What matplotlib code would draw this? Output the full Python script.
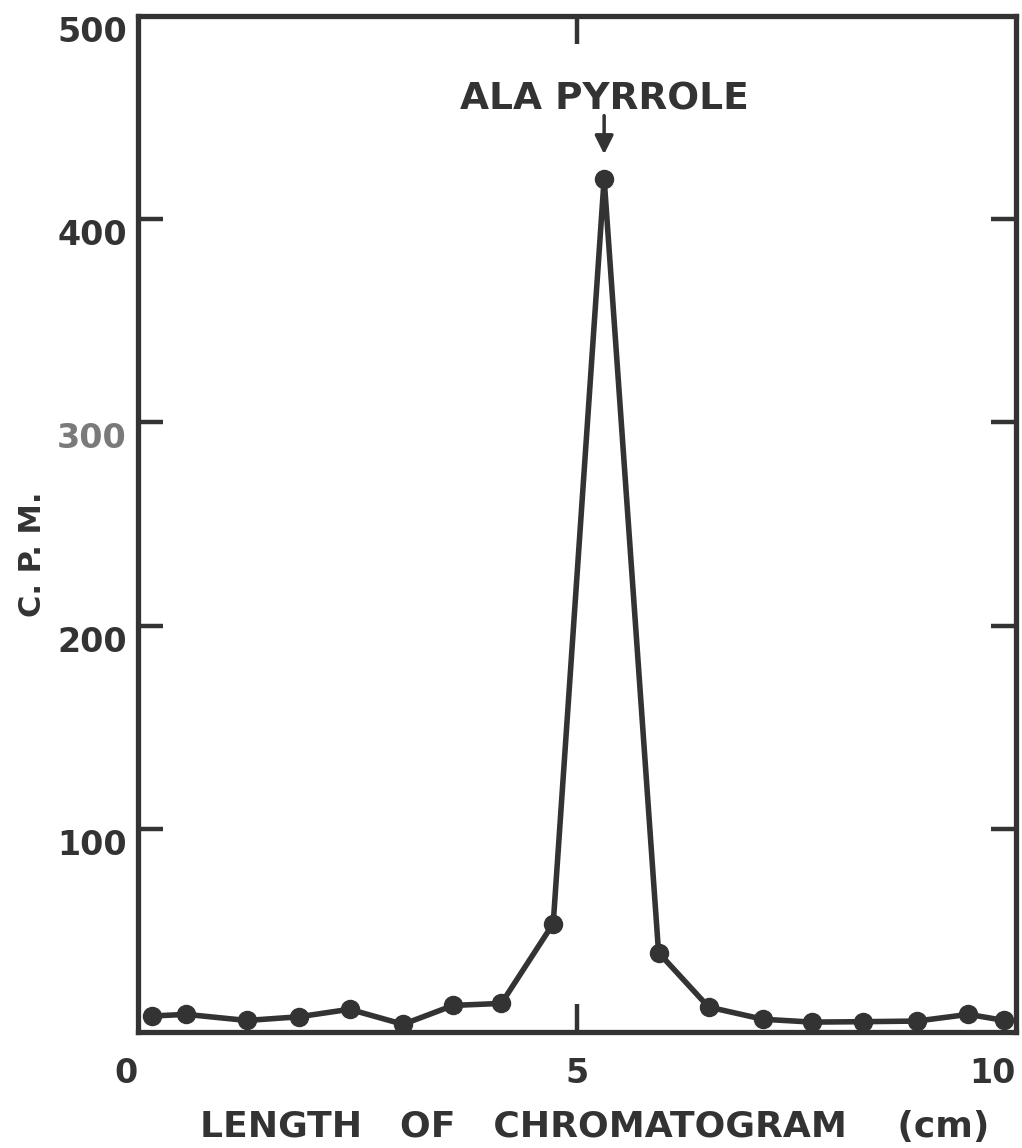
import numpy as np
import matplotlib
matplotlib.use('Agg')
import matplotlib.pyplot as plt

# Radioactivity along the chromatogram strip
length_cm = [0.16, 0.55, 1.24, 1.83, 2.41, 3.02, 3.59, 4.14, 4.73, 5.31,
             5.93, 6.50, 7.12, 7.68, 8.26, 8.87, 9.46, 9.87]
cpm = [7.9, 8.7, 5.7, 7.5, 11.2, 3.8, 13.1, 14.1, 53.4, 420.0,
       39.1, 12.3, 6.3, 4.9, 5.1, 5.4, 8.7, 5.7]

peak_label = 'ALA PYRROLE'
x_ticks = [0, 5, 10]
y_ticks = [100, 200, 300, 400, 500]

ink = '#333333'
plt.rcParams['font.family'] = 'DejaVu Sans'
plt.rcParams['font.weight'] = 'bold'

fig = plt.figure(figsize=(10.22, 11.48), dpi=100)
ax = fig.add_axes([0.135, 0.101, 0.859, 0.885])

ax.plot(length_cm, cpm, color=ink, lw=4.0, marker='o', ms=13,
        mfc=ink, mec=ink, clip_on=False, zorder=3)

ax.set_xlim(0, 10)
ax.set_ylim(0, 500)

for s in ax.spines.values():
    s.set_linewidth(3.8)
    s.set_color(ink)

# y ticks point inward on both sides
ax.set_yticks(y_ticks)
ax.set_yticklabels([str(v) for v in y_ticks])
ax.tick_params(axis='y', direction='in', length=18, width=3.2, color=ink,
               left=True, right=True, labelleft=True, labelright=False,
               labelsize=24, labelcolor=ink, pad=8)
for t in ax.yaxis.get_major_ticks():
    if t.get_loc() == 500:
        t.tick1line.set_visible(False)
        t.tick2line.set_visible(False)
for lbl in ax.get_yticklabels():
    lbl.set_va('top')
    lbl.set_fontweight('heavy')
    if lbl.get_text() == '300':
        lbl.set_color('#7a7a7a')

# x ticks: only the midpoint has a mark, top and bottom
ax.set_xticks(x_ticks)
ax.set_xticklabels([str(v) for v in x_ticks])
ax.tick_params(axis='x', direction='in', length=20, width=3.2, color=ink,
               bottom=True, top=True, labelsize=24, labelcolor=ink, pad=18)
for t in ax.xaxis.get_major_ticks():
    if t.get_loc() != 5:
        t.tick1line.set_visible(False)
        t.tick2line.set_visible(False)
xl = ax.get_xticklabels()
xl[0].set_ha('right')
xl[2].set_ha('right')
for lbl in xl:
    lbl.set_fontweight('heavy')

fig.text(0.582, 0.018, 'LENGTH   OF   CHROMATOGRAM    (cm)', ha='center',
         va='center', fontsize=26, fontweight='bold', color=ink)
fig.text(0.032, 0.517, 'C. P. M.', rotation=90, ha='center', va='center',
         fontsize=22, fontweight='bold', color=ink)

peak_x = length_cm[int(np.argmax(cpm))]
ax.text(peak_x, 459, peak_label, ha='center', va='center', fontsize=27,
        fontweight='bold', color=ink)
ax.annotate('', xy=(peak_x, 432), xytext=(peak_x, 451),
            arrowprops=dict(arrowstyle='-|>', color=ink, lw=2.5,
                            mutation_scale=28, shrinkA=0, shrinkB=0))

fig.savefig('out.png', dpi=100)
